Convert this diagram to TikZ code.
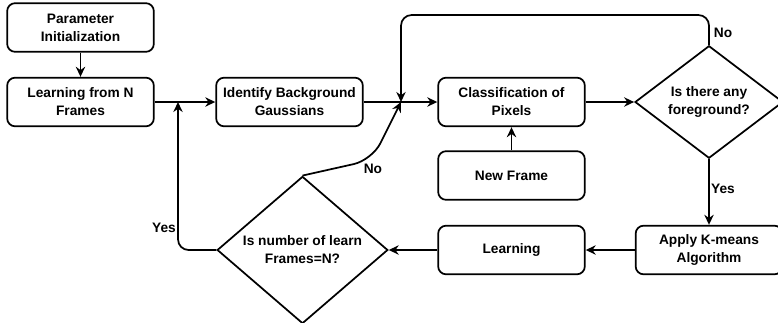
\documentclass[tikz,border=0pt]{standalone}
\usepackage{fontspec}
\setmainfont{Liberation Sans}
\usetikzlibrary{shapes.geometric,arrows.meta}
\begin{document}
\begin{tikzpicture}[x=0.75pt,y=-0.75pt,
  txt/.style={font=\fontsize{10.3}{13.5}\selectfont\bfseries},
  box/.style={txt,draw,rounded corners=6pt,line width=1.3pt,minimum width=110pt,minimum height=36.5pt,align=center,inner sep=0pt},
  dec/.style={txt,draw,diamond,line width=1.3pt,align=center,inner sep=0pt},
  arr/.style={-{Stealth[length=7.5pt,width=7pt]},line width=1.3pt},
  lbl/.style={txt,inner sep=1pt}]
\useasboundingbox (0,0) rectangle (778,322);
\node[box] (pi) at (80.5,27.5) {Parameter\\Initialization};
\node[box] (ln) at (80.5,102) {Learning from N\\Frames};
\node[box] (ib) at (289.5,102) {Identify Background\\Gaussians};
\node[box] (cp) at (511.5,102) {Classification of\\Pixels};
\node[box] (nf) at (511.5,175.5) {New Frame};
\node[box] (le) at (511.5,250) {Learning};
\node[box] (km) at (709,250) {Apply K-means\\Algorithm};
\node[dec,minimum width=111pt,minimum height=82.5pt] (fg) at (709,102) {Is there any\\foreground?};
\node[dec,minimum width=128pt,minimum height=106.5pt] (nl) at (302.5,250) {Is number of learn\\Frames=N?};
\coordinate (j1) at (401,102);
\coordinate (j2) at (178,102);
\draw[arr] (pi) -- (ln);
\draw[arr] (ln) -- (ib);
\draw[arr] (ib) -- (cp);
\draw[arr] (nf) -- (cp);
\draw[arr] (cp) -- (fg);
\draw[arr] (fg) -- node[lbl,right,pos=0.45]{Yes} (km);
\draw[arr] (km) -- (le);
\draw[arr] (le) -- (nl);
\draw[arr,rounded corners=8pt] (fg.north) -- (709,15) -- node[lbl,pos=0,anchor=north west,xshift=2pt,yshift=-8pt]{No} (401,15) -- (j1);
\draw[arr,rounded corners=8pt] (nl.west) -- (178,250) -- node[lbl,left,pos=0.15]{Yes} (j2);
\draw[arr,rounded corners=14pt] (nl.north) -- node[lbl,pos=0.85,below right,xshift=0pt]{No} (372,160) -- (j1);
\end{tikzpicture}
\end{document}
